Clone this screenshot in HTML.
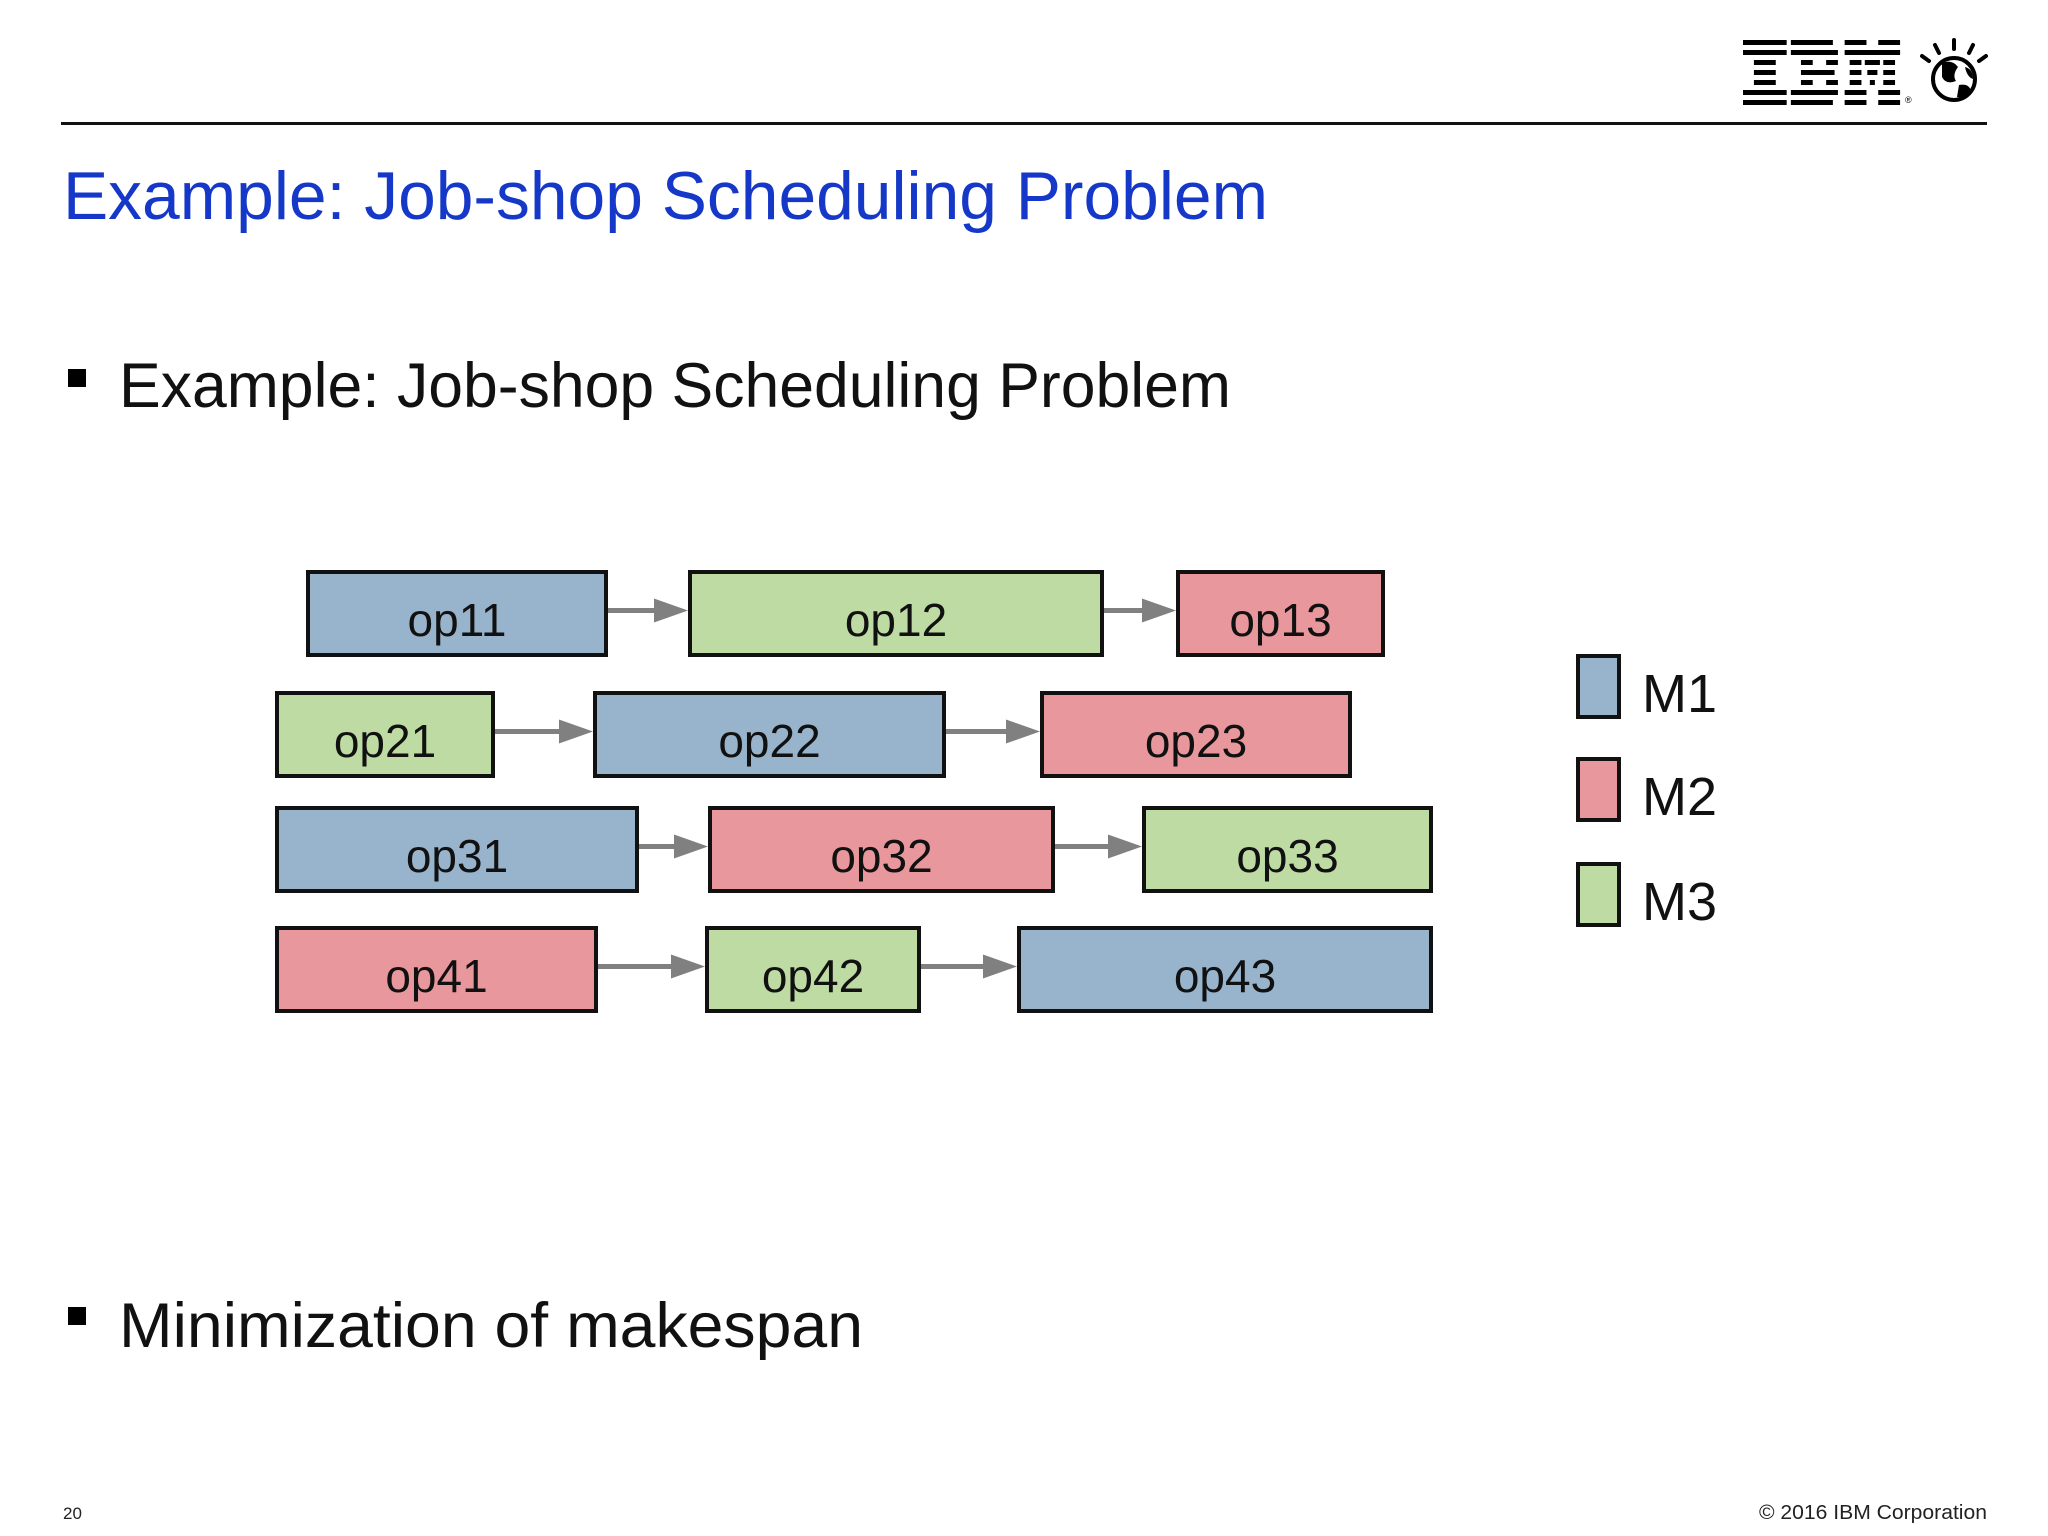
<!DOCTYPE html>
<html><head><meta charset="utf-8"><style>
html,body{margin:0;padding:0;background:#fff}
svg{display:block}
text{font-family:"Liberation Sans",sans-serif}
</style></head><body>
<svg id="slide" width="2048" height="1536" viewBox="0 0 2048 1536" xmlns="http://www.w3.org/2000/svg">
<rect width="2048" height="1536" fill="#ffffff"/>
<g>
  <g fill="#000" transform="translate(1743,0) scale(0.84,1) translate(-1743,0)">
    <rect x="1743" y="40" width="52" height="5"/><rect x="1743" y="50" width="52" height="5"/>
    <rect x="1756" y="60" width="26" height="5"/><rect x="1756" y="70" width="26" height="5"/><rect x="1756" y="80" width="26" height="5"/>
    <rect x="1743" y="90" width="52" height="5"/><rect x="1743" y="100" width="52" height="5"/>
    <rect x="1800" y="40" width="50" height="5"/><rect x="1800" y="50" width="56" height="5"/>
    <rect x="1812" y="60" width="14" height="5"/><rect x="1842" y="60" width="14" height="5"/>
    <rect x="1812" y="70" width="40" height="5"/>
    <rect x="1812" y="80" width="14" height="5"/><rect x="1842" y="80" width="14" height="5"/>
    <rect x="1800" y="90" width="56" height="5"/><rect x="1800" y="100" width="50" height="5"/>
    <rect x="1864" y="40" width="26" height="5"/><rect x="1904" y="40" width="26" height="5"/>
    <rect x="1864" y="50" width="66" height="5"/>
    <rect x="1870" y="60" width="14" height="5"/><rect x="1888" y="60" width="18" height="5"/><rect x="1910" y="60" width="14" height="5"/>
    <rect x="1870" y="70" width="14" height="5"/><rect x="1891" y="70" width="12" height="5"/><rect x="1910" y="70" width="14" height="5"/>
    <rect x="1870" y="80" width="14" height="5"/><rect x="1894" y="80" width="6" height="5"/><rect x="1910" y="80" width="14" height="5"/>
    <rect x="1864" y="90" width="26" height="5"/><rect x="1904" y="90" width="26" height="5"/>
    <rect x="1864" y="100" width="26" height="5"/><rect x="1904" y="100" width="26" height="5"/>
  </g>
  <text x="1905" y="103" font-size="9" fill="#000">®</text>
  <circle cx="1954" cy="79" r="21" fill="#fff" stroke="#000" stroke-width="4"/>
  <path d="M1942 63 q10 -4 16 4 q-6 8 -2 14 q-10 4 -14 -4 z M1959 85 q10 -2 12 6 q-6 8 -14 6 z M1965 67 q8 2 8 12 q-6 -2 -8 -12 z" fill="#000"/>
  <g stroke="#000" stroke-width="4" stroke-linecap="round">
    <line x1="1954" y1="40" x2="1954" y2="49"/><line x1="1935" y1="45" x2="1939" y2="53"/>
    <line x1="1973" y1="45" x2="1969" y2="53"/><line x1="1922" y1="56" x2="1929" y2="61"/>
    <line x1="1986" y1="56" x2="1979" y2="61"/>
  </g>
</g>
<rect x="61" y="122" width="1926" height="3" fill="#111"/>
<text x="63" y="219" font-size="68" fill="#1538c8" textLength="1205" lengthAdjust="spacingAndGlyphs">Example: Job-shop Scheduling Problem</text>
<rect x="68" y="369" width="18" height="18" fill="#000"/>
<text x="119" y="407" font-size="63" fill="#111" textLength="1112" lengthAdjust="spacingAndGlyphs">Example: Job-shop Scheduling Problem</text>
<rect x="68" y="1307" width="18" height="18" fill="#000"/>
<text x="119" y="1347" font-size="63" fill="#111" textLength="744" lengthAdjust="spacingAndGlyphs">Minimization of makespan</text>
<text x="63" y="1519" font-size="17" fill="#222">20</text>
<text x="1987" y="1519" font-size="20" fill="#222" text-anchor="end" textLength="228" lengthAdjust="spacingAndGlyphs">© 2016 IBM Corporation</text>
<g id="diagram"></g>
<g id="legend"></g>
</svg>
<script>
const jobs = ["1","2","3","4"];
const opLabels = [["op11","op12","op13"],["op21","op22","op23"],["op31","op32","op33"],["op41","op42","op43"]];
const opStarts = [[3.1,41.3,90.1],[0,31.8,76.5],[0,43.3,86.7],[0,43,74.2]];
const opEnds = [[32.9,82.5,110.6],[21.6,66.7,107.3],[36,77.6,115.4],[31.9,64.2,115.4]];
const opMachines = [[1,3,2],[3,1,2],[1,2,3],[2,3,1]];
const machineNames = ["M1","M2","M3"];
const machineColors = {1:"#98b4cc",2:"#e8989c",3:"#bddba3"};
const rowTops = [572,693,808,928];
const xScale = t => 277 + t*10;
const rowH = 83;
const NS = "http://www.w3.org/2000/svg";
const g = document.getElementById('diagram');
function mk(tag, attrs){const e=document.createElementNS(NS,tag);for(const k in attrs)e.setAttribute(k,attrs[k]);return e;}
jobs.forEach((j,ri)=>{
  const y=rowTops[ri];
  opLabels[ri].forEach((lab,oi)=>{
    const x0=xScale(opStarts[ri][oi]), x1=xScale(opEnds[ri][oi]);
    const r=mk('rect',{x:x0,y:y,width:x1-x0,height:rowH,fill:machineColors[opMachines[ri][oi]],stroke:"#111","stroke-width":4});
    
    
    g.appendChild(r);
    const t=mk('text',{x:(x0+x1)/2,y:y+64,"font-size":46,"text-anchor":"middle",fill:"#111"});
    t.textContent=lab;
    
    
    g.appendChild(t);
    if(oi<2){
      const ax0=x1+2, ax1=xScale(opStarts[ri][oi+1])-2, ay=y+rowH/2-3;
      const a=mk('g',{});
      
      
      a.appendChild(mk('line',{x1:ax0,y1:ay,x2:ax1-30,y2:ay,stroke:"#808080","stroke-width":5}));
      a.appendChild(mk('polygon',{points:`${ax1},${ay} ${ax1-34},${ay-12} ${ax1-34},${ay+12}`,fill:"#808080"}));
      g.appendChild(a);
    }
  });
});
const lg=document.getElementById('legend');
const legTops=[656,759,864];
machineNames.forEach((m,i)=>{
  const r=mk('rect',{x:1578,y:legTops[i],width:41,height:61,fill:machineColors[i+1],stroke:"#111","stroke-width":4});
  
  
  lg.appendChild(r);
  const t=mk('text',{x:1642,y:legTops[i]+56,"font-size":54,fill:"#111"});
  t.textContent=m;
  
  
  lg.appendChild(t);
});
</script>
</body></html>
